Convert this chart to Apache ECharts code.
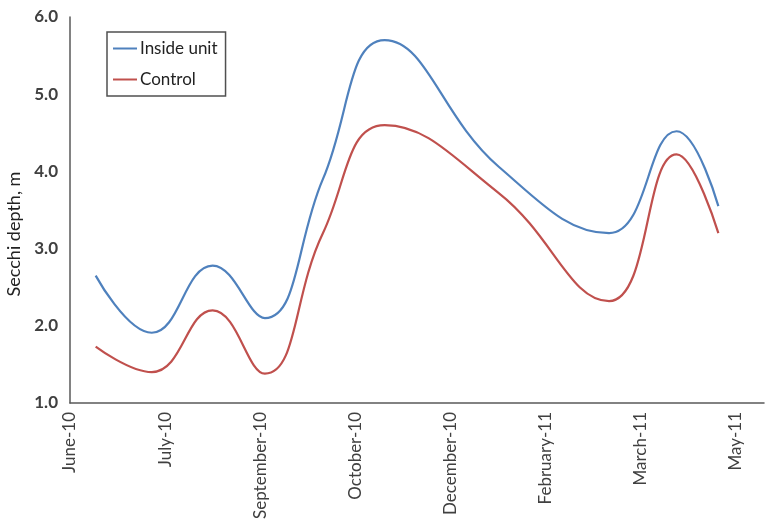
<!DOCTYPE html>
<html>
<head>
<meta charset="utf-8">
<script src="https://cdn.jsdelivr.net/npm/echarts@6/dist/echarts.min.js"></script>
<style>html,body{margin:0;padding:0;background:#fff}#c{width:766px;height:523px}</style>
</head>
<body>
<div id="c"></div>
<script>
// Tick labels of the date axis (evenly spaced)
const xTickLabels = ['June-10','July-10','September-10','October-10','December-10','February-11','March-11','May-11'];
// Sample positions in tick-label units along the date axis
const samplePos = [0.27, 0.86, 1.50, 2.05, 2.66, 3.31, 4.51, 5.67, 6.38, 6.82];
// Secchi depth (m)
const insideUnit = [2.65, 1.91, 2.78, 2.10, 3.90, 5.70, 4.06, 3.20, 4.52, 3.55];
const control    = [1.73, 1.40, 2.20, 1.38, 3.20, 4.60, 3.72, 2.32, 4.22, 3.20];

const pair = (xs, ys) => xs.map((x, i) => [x, ys[i]]);
const txt = '#404040';
const font = 'Lato, "Open Sans", "Noto Sans", sans-serif';

const chart = echarts.init(document.getElementById('c'), null, {renderer: 'canvas'});
chart.setOption({
  animation: false,
  backgroundColor: '#fff',
  grid: {left: 70, right: 2, top: 17, bottom: 120, containLabel: false, outerBoundsMode: 'none'},
  legend: {
    orient: 'vertical', left: 107, top: 32,
    padding: [8, 8, 8, 6], itemGap: 14,
    borderColor: '#505050', borderWidth: 1.5,
    icon: 'rect', itemWidth: 24, itemHeight: 2,
    textStyle: {color: '#222', fontSize: 17, fontFamily: font, padding: [0, 0, 0, -2]},
    data: ['Inside unit', 'Control']
  },
  xAxis: {
    type: 'value', min: 0, max: 7.3, interval: 1,
    axisLine: {show: true, lineStyle: {color: '#595959', width: 1.5}},
    axisTick: {show: false},
    splitLine: {show: false},
    axisLabel: {
      rotate: 90, margin: 9, color: txt, fontSize: 17, fontFamily: font,
      showMaxLabel: false,
      formatter: v => { const i = Math.round(v); return Math.abs(v - i) < 1e-6 && xTickLabels[i] ? xTickLabels[i] : ''; }
    }
  },
  yAxis: {
    type: 'value', min: 1, max: 6, interval: 1,
    name: 'Secchi depth, m', nameLocation: 'middle', nameGap: 45, nameRotate: 90,
    nameTextStyle: {color: '#222', fontSize: 18, fontFamily: font, padding: [0, 48, 0, 0]},
    axisLine: {show: true, lineStyle: {color: '#595959', width: 1.5}},
    axisTick: {show: false},
    splitLine: {show: false},
    axisLabel: {color: txt, fontSize: 17, fontWeight: 'bold', fontFamily: font, margin: 12, formatter: v => v.toFixed(1)}
  },
  series: [
    {name: 'Inside unit', type: 'line', smooth: 0.45, showSymbol: false,
     data: pair(samplePos, insideUnit), color: '#4F81BD', lineStyle: {width: 2.2, color: '#4F81BD'}},
    {name: 'Control', type: 'line', smooth: 0.45, showSymbol: false,
     data: pair(samplePos, control), color: '#C0504D', lineStyle: {width: 2.2, color: '#C0504D'}}
  ]
});
</script>
</body>
</html>
